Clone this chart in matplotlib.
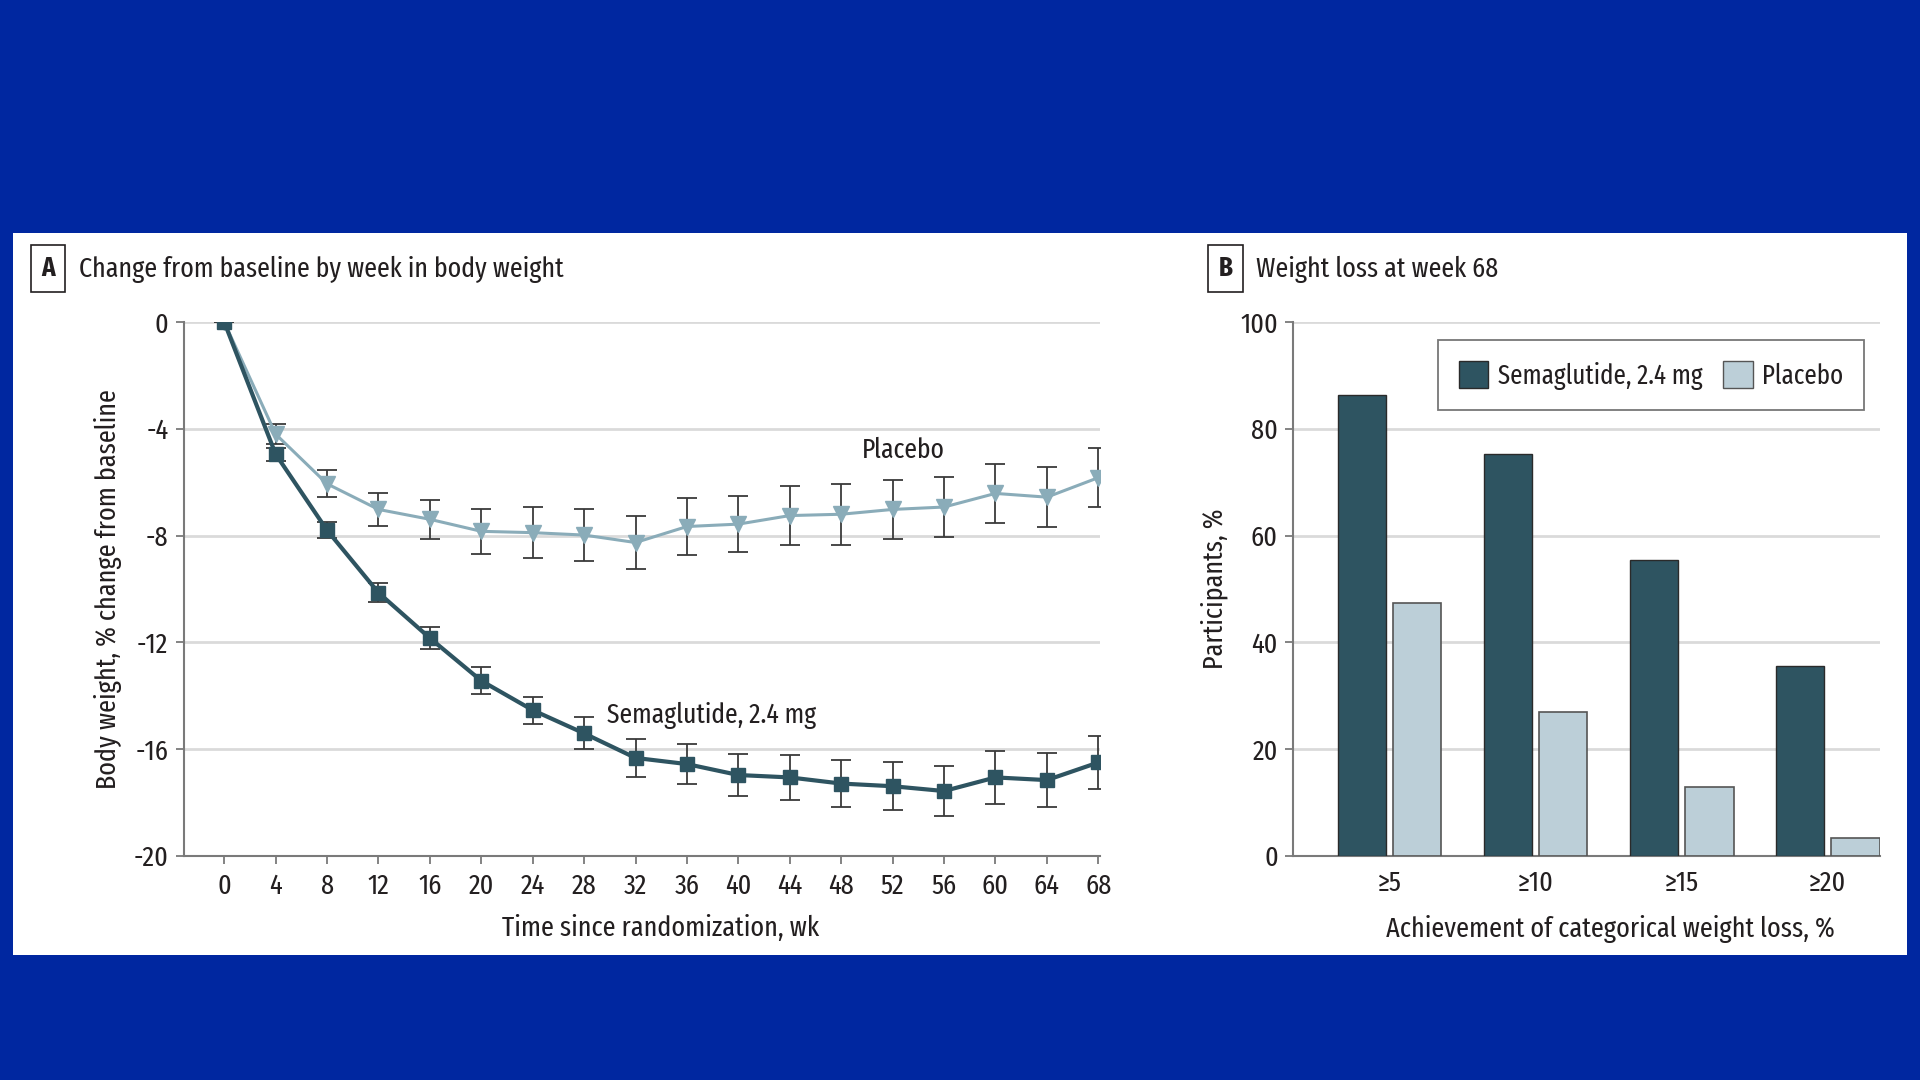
import matplotlib.pyplot as plt
from matplotlib.patches import Rectangle, Patch

plt.rcParams['font.family'] = ['Fira Sans Extra Condensed', 'Fira Sans Condensed', 'Barlow Semi Condensed', 'DejaVu Sans']

# panel A data: % change from baseline in body weight
weeks = [0, 4, 8, 12, 16, 20, 24, 28, 32, 36, 40, 44, 48, 52, 56, 60, 64, 68]
sema_mean = [0, -4.95, -7.8, -10.14, -11.84, -13.44, -14.54, -15.41, -16.33, -16.56,
             -16.97, -17.06, -17.29, -17.39, -17.57, -17.06, -17.16, -16.5]
sema_err = [0, 0.25, 0.3, 0.35, 0.4, 0.5, 0.5, 0.6, 0.7, 0.75,
            0.8, 0.85, 0.87, 0.9, 0.95, 1.0, 1.0, 1.0]
plac_mean = [0, -4.2, -6.06, -7.02, -7.39, -7.84, -7.89, -7.98, -8.26, -7.66,
             -7.57, -7.25, -7.2, -7.02, -6.93, -6.42, -6.56, -5.83]
plac_err = [0, 0.38, 0.5, 0.62, 0.73, 0.85, 0.95, 0.97, 1.0, 1.05,
            1.05, 1.1, 1.15, 1.12, 1.12, 1.1, 1.12, 1.1]

# panel B data: participants reaching weight-loss thresholds at week 68
categories = ['≥5', '≥10', '≥15', '≥20']
sema_pct = [86.4, 75.2, 55.5, 35.6]
plac_pct = [47.3, 26.9, 13.0, 3.4]

SEMA = '#2e5461'
PLAC_LINE = '#8aacb9'
PLAC_BAR = '#bccfd8'
BG = '#0027a0'
TXT = '#231f20'
GRID = '#dadada'
SPINE = '#7a7a7a'

fig = plt.figure(figsize=(19.2, 10.8), dpi=100, facecolor=BG)
fig.patches.append(Rectangle((0.007, 0.1156), 0.986, 0.669, transform=fig.transFigure,
                             facecolor='white', edgecolor='none', zorder=-5))


def style_axes(ax):
    for s in ['top', 'right']:
        ax.spines[s].set_visible(False)
    for s in ['left', 'bottom']:
        ax.spines[s].set_color(SPINE)
        ax.spines[s].set_linewidth(1.5)
    ax.tick_params(colors=SPINE, labelcolor=TXT, labelsize=20.5, length=6, width=1.3, pad=5)
    ax.yaxis.grid(True, color=GRID, linewidth=2)
    ax.set_axisbelow(True)


def panel_title(x, letter, text):
    fig.text(x, 0.7515, letter, fontsize=19.5, fontweight='bold', color=TXT, ha='center', va='center',
             bbox=dict(boxstyle='square,pad=0.38', facecolor='white', edgecolor=TXT, linewidth=1.2))
    fig.text(x + 0.016, 0.7505, text, fontsize=20.3, color=TXT, ha='left', va='center')


# ---- panel A
axA = fig.add_axes([0.0957, 0.2075, 0.477, 0.4943])
style_axes(axA)
axA.errorbar(weeks, plac_mean, yerr=plac_err, color=PLAC_LINE, lw=2.2, marker='v', ms=11,
             ecolor='#3a3a3a', elinewidth=1.3, capsize=7.5, capthick=1.3, zorder=3)
axA.errorbar(weeks, sema_mean, yerr=sema_err, color=SEMA, lw=3, marker='s', ms=9.5,
             ecolor='#3a3a3a', elinewidth=1.3, capsize=7.5, capthick=1.3, zorder=4)
axA.set_xlim(-3.15, 68.1)
axA.set_ylim(-20, 0)
axA.set_xticks(weeks)
axA.set_yticks([0, -4, -8, -12, -16, -20])
axA.set_yticklabels(['0', '-4', '-8', '-12', '-16', '-20'])
axA.tick_params(axis='x', pad=6)
axA.set_xlabel('Time since randomization, wk', fontsize=20.5, color=TXT, labelpad=10)
axA.xaxis.set_label_coords(0.521, -0.11)
axA.set_ylabel('Body weight, % change from baseline', fontsize=20.5, color=TXT, labelpad=8)
axA.text(52.8, -4.8, 'Placebo', fontsize=20, color=TXT, ha='center', va='center')
axA.text(37.9, -14.75, 'Semaglutide, 2.4 mg', fontsize=20, color=TXT, ha='center', va='center')
panel_title(0.0249, 'A', 'Change from baseline by week in body weight')

# ---- panel B
axB = fig.add_axes([0.6735, 0.2075, 0.3055, 0.4943])
style_axes(axB)
pos = list(range(len(categories)))
w = 0.33
axB.bar([p - 0.19 for p in pos], sema_pct, width=w, color=SEMA, edgecolor='#2a2a2a', lw=1, zorder=3)
axB.bar([p + 0.19 for p in pos], plac_pct, width=w, color=PLAC_BAR, edgecolor='#555555', lw=1.2, zorder=3)
axB.set_xlim(-0.66, 3.355)
axB.set_ylim(0, 100)
axB.set_yticks([0, 20, 40, 60, 80, 100])
axB.set_xticks(pos)
axB.set_xticklabels(categories)
axB.tick_params(axis='x', length=0, pad=10)
axB.set_xlabel('Achievement of categorical weight loss, %', fontsize=20.5, color=TXT, labelpad=10)
axB.xaxis.set_label_coords(0.541, -0.11)
axB.set_ylabel('Participants, %', fontsize=20.5, color=TXT, labelpad=9)
handles = [Patch(facecolor=SEMA, edgecolor='#2a2a2a', label='Semaglutide, 2.4 mg'),
           Patch(facecolor=PLAC_BAR, edgecolor='#555555', label='Placebo')]
leg = axB.legend(handles=handles, loc='upper right', bbox_to_anchor=(0.973, 0.966), ncol=2,
                 fontsize=19.5, frameon=True, fancybox=False, edgecolor='#555555',
                 handlelength=1.1, handleheight=1.2, columnspacing=0.75, handletextpad=0.35,
                 borderpad=0.75, borderaxespad=0)
leg.get_frame().set_linewidth(1.3)
for t in leg.get_texts():
    t.set_color(TXT)
panel_title(0.6384, 'B', 'Weight loss at week 68')

fig.savefig('out.png', dpi=100, facecolor=BG)
